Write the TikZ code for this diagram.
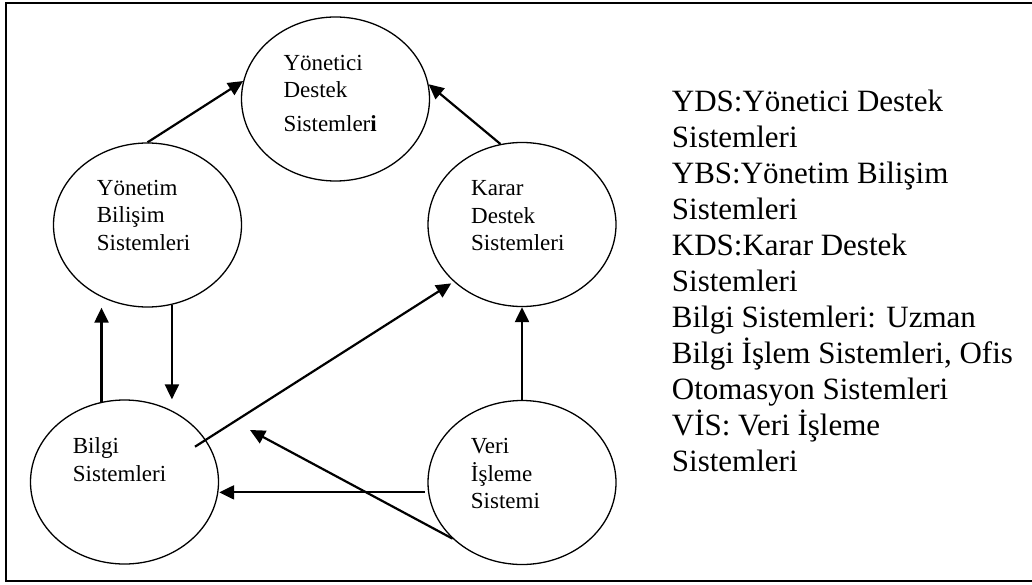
\documentclass[tikz,border=0pt]{standalone}
\usepackage{fontspec}
\setmainfont{Liberation Serif}
\usetikzlibrary{shapes.geometric,arrows.meta}

\begin{document}
\begin{tikzpicture}[x=1pt,y=-1pt,
  sysbox/.style={draw, ellipse, line width=1.3pt, minimum width=188pt,
                 minimum height=164pt, inner sep=0pt},
  lbl/.style={anchor=base west, inner sep=0pt, font=\fontsize{23}{27}\selectfont},
  legend/.style={anchor=base west, inner sep=0pt, font=\fontsize{31}{36}\selectfont},
  arr/.style={line width=2.2pt, -{Triangle[length=15pt,width=14pt]}}
]
\useasboundingbox (0,0) rectangle (1032,585);

% outer frame (open on the right)
\draw[line width=2pt] (1040,3) -- (6,3) -- (6,581) -- (1040,581);

% systems
\node[sysbox] (yds)   at (335.5,99)  {};
\node[sysbox] (ybs)   at (147.5,225) {};
\node[sysbox] (kds)   at (522,224.5) {};
\node[sysbox] (bilgi) at (124.5,482) {};
\node[sysbox] (veri)  at (522,482.5) {};

% labels inside the ellipses
\node[lbl] (yds1) at (283.3,70.3)  {Yönetici};
\node[lbl] (yds2) at (283.3,97.7)  {Destek};
\node[lbl] (yds3) at (283.3,131.7) {Sistemler\textbf{i}};

\node[lbl] (ybs1) at (96.7,195.7) {Yönetim};
\node[lbl] (ybs2) at (96.7,222.7) {Bilişim};
\node[lbl] (ybs3) at (96.7,250)   {Sistemleri};

\node[lbl] (kds1) at (471,195.7) {Karar};
\node[lbl] (kds2) at (471,223)   {Destek};
\node[lbl] (kds3) at (471,250.5) {Sistemleri};

\node[lbl] (bs1) at (72.7,453.3) {Bilgi};
\node[lbl] (bs2) at (72.7,481.5) {Sistemleri};

\node[lbl] (vis1) at (470.7,453.3) {Veri};
\node[lbl] (vis2) at (470.7,481)   {İşleme};
\node[lbl] (vis3) at (470.7,508.3) {Sistemi};

% connectors
\draw[arr] (ybs.north) -- (yds.169);
\draw[arr] (kds.105) -- (yds.9);
\draw[arr] (bilgi.106) -- (bilgi.106 |- ybs.south);
\draw[arr] (ybs.287) -- (ybs.287 |- bilgi.north);
\coordinate (bsrc) at ([shift={(70.5,-35.3)}]bilgi.center);
\draw[arr, shorten >=3pt] (bsrc) -- (kds.220);
\draw[arr, shorten <=3pt] (veri.186) -- (veri.186 -| bilgi.east);
\coordinate (vtip) at (250,430);
\draw[arr] (veri.219) -- (vtip);
\draw[arr] (veri.north) -- (kds.south);

% legend
\node[legend] (leg1)  at (671.7,111.5) {YDS:Yönetici Destek};
\node[legend] (leg2)  at (671.7,147.5) {Sistemleri};
\node[legend] (leg3)  at (671.7,183.5) {YBS:Yönetim Bilişim};
\node[legend] (leg4)  at (671.7,219.5) {Sistemleri};
\node[legend] (leg5)  at (671.7,255.5) {KDS:Karar Destek};
\node[legend] (leg6)  at (671.7,291.5) {Sistemleri};
\node[legend] (leg7)  at (671.7,327.5) {Bilgi Sistemleri: Uzman};
\node[legend] (leg8)  at (671.7,363.5) {Bilgi İşlem Sistemleri, Ofis};
\node[legend] (leg9)  at (671.7,399.5) {Otomasyon Sistemleri};
\node[legend] (leg10) at (671.7,435.5) {VİS: Veri İşleme};
\node[legend] (leg11) at (671.7,471.5) {Sistemleri};
\end{tikzpicture}
\end{document}
